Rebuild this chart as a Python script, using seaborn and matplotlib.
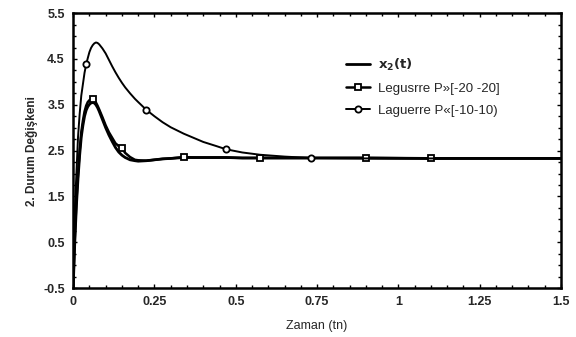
import matplotlib
matplotlib.use('Agg')
import matplotlib.pyplot as plt
from matplotlib.ticker import MultipleLocator
import seaborn as sns
import pandas as pd

##################################################################################
# data
##################################################################################
# time axis (tn)
t = [0.0, 0.005, 0.01, 0.015, 0.02, 0.025, 0.03, 0.035, 0.04, 0.045, 0.05,
     0.055, 0.06, 0.065, 0.07, 0.075, 0.08, 0.09, 0.10, 0.11, 0.12, 0.13,
     0.14, 0.15, 0.16, 0.175, 0.19, 0.20, 0.225, 0.25, 0.275, 0.30, 0.34,
     0.37, 0.40, 0.44, 0.47, 0.52, 0.575, 0.65, 0.73, 0.90, 1.10, 1.30, 1.50]

# x2(t) reference response
x2 = [-0.5, 0.5, 1.3, 1.9, 2.4, 2.8, 3.05, 3.25, 3.38, 3.46, 3.51,
      3.54, 3.55, 3.54, 3.5, 3.44, 3.36, 3.18, 3.0, 2.84, 2.7, 2.57,
      2.47, 2.4, 2.35, 2.3, 2.28, 2.27, 2.28, 2.3, 2.32, 2.33, 2.35,
      2.35, 2.35, 2.35, 2.35, 2.34, 2.34, 2.34, 2.34, 2.34, 2.33, 2.33, 2.33]

# Legendre approximation P=[-20 -20]
legendre = [-0.5, 0.6, 1.4, 2.0, 2.5, 2.9, 3.15, 3.35, 3.48, 3.56, 3.6,
            3.62, 3.62, 3.6, 3.55, 3.48, 3.4, 3.23, 3.05, 2.9, 2.78, 2.66,
            2.6, 2.55, 2.45, 2.36, 2.3, 2.29, 2.28, 2.3, 2.32, 2.33, 2.36,
            2.35, 2.35, 2.35, 2.35, 2.34, 2.34, 2.34, 2.34, 2.34, 2.33, 2.33,
            2.33]
legendre_marks = [12, 23, 32, 38, 41, 42]

# Laguerre approximation P=[-10 -10]
laguerre = [-0.5, 1.2, 2.0, 2.8, 3.3, 3.7, 3.95, 4.2, 4.38, 4.52, 4.65,
            4.74, 4.8, 4.84, 4.86, 4.85, 4.82, 4.73, 4.62, 4.48, 4.34, 4.21,
            4.09, 3.98, 3.88, 3.75, 3.63, 3.56, 3.39, 3.25, 3.12, 3.01, 2.87,
            2.78, 2.69, 2.6, 2.53, 2.46, 2.41, 2.37, 2.34, 2.33, 2.33, 2.33,
            2.33]
laguerre_marks = [8, 28, 36, 40]

labels = [r'$\mathbf{x_2(t)}$', 'Legusrre P»[-20 -20]', 'Laguerre P«[-10-10)']

xticks = [0, 0.25, 0.5, 0.75, 1, 1.25, 1.5]
xtick_labels = ['0', '0.25', '0.5', '0.75', '1', '1.25', '1.5']
yticks = [-0.5, 0.5, 1.5, 2.5, 3.5, 4.5, 5.5]
ytick_labels = ['-0.5', '0.5', '1.5', '2.5', '3.5', '4.5', '5.5']

df = pd.DataFrame({'t': t, 'x2': x2, 'leg': legendre, 'lag': laguerre})

##################################################################################
# plotting
##################################################################################
sns.set_style('white')
plt.rcParams['font.family'] = ['Liberation Sans', 'DejaVu Sans']

fig = plt.figure(figsize=(5.76, 3.37), dpi=100)
ax = fig.add_axes([0.127, 0.145, 0.847, 0.816])

sns.lineplot(data=df, x='t', y='x2', ax=ax, color='black', lw=2.0,
             label=labels[0])
sns.lineplot(data=df, x='t', y='leg', ax=ax, color='black', lw=1.8,
             marker='s', markersize=5, markerfacecolor='white',
             markeredgecolor='black', markeredgewidth=1.3,
             markevery=legendre_marks, label=labels[1])
sns.lineplot(data=df, x='t', y='lag', ax=ax, color='black', lw=1.4,
             marker='o', markersize=4.5, markerfacecolor='white',
             markeredgecolor='black', markeredgewidth=1.3,
             markevery=laguerre_marks, label=labels[2])

ax.set_xlim(0, 1.5)
ax.set_ylim(-0.5, 5.5)
ax.set_xticks(xticks)
ax.set_xticklabels(xtick_labels)
ax.set_yticks(yticks)
ax.set_yticklabels(ytick_labels)
ax.xaxis.set_minor_locator(MultipleLocator(0.05))
ax.yaxis.set_minor_locator(MultipleLocator(0.25))

ax.tick_params(which='both', direction='in', top=True, right=True,
               bottom=True, left=True, labelsize=9, width=1, color='black')
ax.tick_params(which='major', length=3)
ax.tick_params(which='minor', length=2)
ax.tick_params(axis='x', pad=6)
ax.tick_params(axis='y', pad=6)
for lab in ax.get_xticklabels() + ax.get_yticklabels():
    lab.set_fontweight('bold')

for sp in ax.spines.values():
    sp.set_linewidth(1.8)
    sp.set_color('black')

ax.set_xlabel('Zaman (tn)', fontsize=9, labelpad=8)
ax.set_ylabel('2. Durum Değişkeni', fontsize=8.5, fontweight='bold',
              labelpad=4)

leg = ax.legend(loc='upper left', bbox_to_anchor=(0.535, 0.885), frameon=False,
                fontsize=9.5, handlelength=1.8, labelspacing=0.75,
                handletextpad=0.6)

plt.savefig('out.png', dpi=100)
